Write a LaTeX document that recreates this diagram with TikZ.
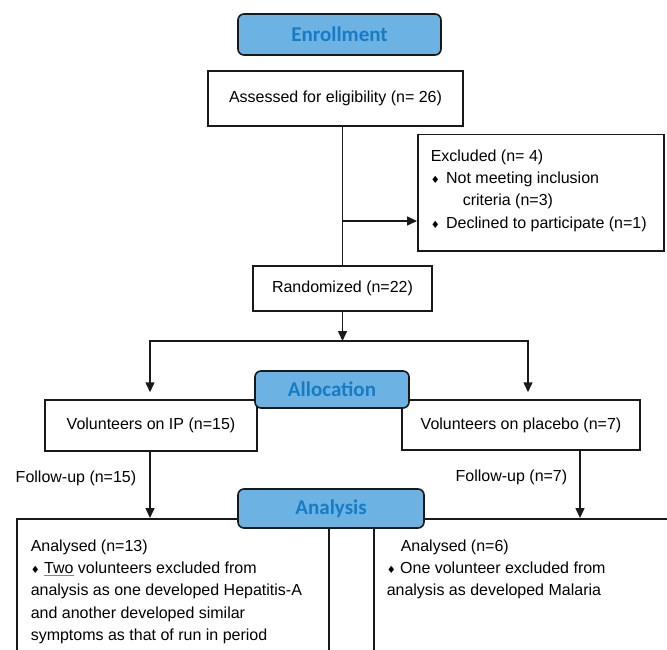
\documentclass[tikz,border=0pt]{standalone}
\usepackage{fontspec}
\setmainfont{Liberation Sans}
\newfontfamily\hdrfont{Carlito}
\newfontfamily\symfont{DejaVu Sans}
\usetikzlibrary{arrows.meta}

\definecolor{hdrfill}{RGB}{108,178,226}
\definecolor{hdrtext}{RGB}{24,124,196}
\definecolor{sqiggreen}{RGB}{70,170,90}

\newcommand{\bul}{{\symfont\fontsize{10}{10}\selectfont ♦}}
\newcommand{\sqig}[1]{{\color{sqiggreen}\underline{\color{black}#1}}}

\tikzset{
    box/.style={draw=black!90, line width=1.5pt, fill=white, inner sep=0pt,
        font=\fontsize{16}{22.3}\selectfont},
    hdr/.style={draw=black!90, line width=1.6pt, rounded corners=6pt, fill=hdrfill,
        text=hdrtext, inner sep=0pt, font=\hdrfont\bfseries\fontsize{21}{24}\selectfont},
    con/.style={draw=black!90, line width=1.5pt},
    arr/.style={con, -{Triangle[length=10pt,width=9pt]}},
    fulabel/.style={font=\fontsize{16}{20}\selectfont, inner sep=0pt}
}

\begin{document}
\begin{tikzpicture}[x=1pt, y=-1pt]
    \clip (0,0) rectangle (667,650);

    % enrollment
    \node[box, minimum width=255pt, minimum height=55pt] (assess) at (335.5,98.5)
        {Assessed for eligibility (n= 26)};
    \node[box, anchor=north west, inner xsep=13pt, minimum width=246pt] (excl) at (417,134)
        {\parbox[b][116pt][t]{220pt}{\raggedright\vspace*{15pt}%
        Excluded (n= 4)\\
        \bul\ \hspace{2pt}Not meeting inclusion\\
        \hspace*{32pt}criteria (n=3)\\
        \bul\ \hspace{2pt}Declined to participate (n=1)}};
    \node[box, minimum width=179pt, minimum height=45pt] (rand) at (342.5,288.5)
        {Randomized (n=22)};

    % allocation
    \node[box, minimum width=212pt, minimum height=51pt] (ip) at (151,425.5)
        {Volunteers on IP (n=15)};
    \node[box, minimum width=238pt, minimum height=50pt] (plac) at (521,425)
        {Volunteers on placebo (n=7)};

    % analysis
    \node[box, anchor=north west, inner xsep=14pt, minimum width=312pt] (anl) at (16,518)
        {\parbox[b][200pt][t]{284pt}{\raggedright\vspace*{21pt}%
        Analysed (n=13)\\
        \bul\ \sqig{Two} volunteers excluded from\\
        analysis as one developed Hepatitis-A\\
        and another developed similar\\
        symptoms as that of run in period}};
    \node[box, anchor=north west, inner xsep=13pt] (anr) at (373,518)
        {\parbox[b][200pt][t]{330pt}{\raggedright\vspace*{21pt}%
        \hspace*{14pt}Analysed (n=6)\\
        \bul\ One volunteer excluded from\\
        analysis as developed Malaria}};

    % connectors
    \draw[con] (assess.south -| rand.north) -- (rand.north);
    \coordinate (exc) at (rand.north |- 0,221);
    \draw[arr] (exc) -- (exc -| excl.west);
    \coordinate (split) at (rand.south |- 0,341);
    \draw[arr] (rand.south) -- (split);
    \draw[arr, shorten >=7pt] (split) -| ([xshift=-1pt]ip.north);
    \draw[arr, shorten >=7pt] (split) -| ([xshift=7pt]plac.north);
    \draw[arr] ([xshift=-1pt]ip.south) -- ([xshift=-1pt]ip.south |- anl.north)
        node[fulabel, pos=.4, left=13pt] (fuL) {Follow-up (n=15)};
    \coordinate (fuR) at (580,0);
    \draw[arr] (fuR |- plac.south) -- (fuR |- anr.north)
        node[fulabel, pos=.4, left=12pt] (fuRl) {Follow-up (n=7)};

    % headers on top
    \foreach \name/\x/\y/\w/\h/\txt in {enrol/339.5/34.5/203/41/Enrollment,
            alloc/332/389.5/154/37/Allocation, analy/331/508.5/186/39/Analysis}
        \node[hdr, minimum width=\w pt, minimum height=\h pt] (\name) at (\x,\y) {\txt};
\end{tikzpicture}
\end{document}
